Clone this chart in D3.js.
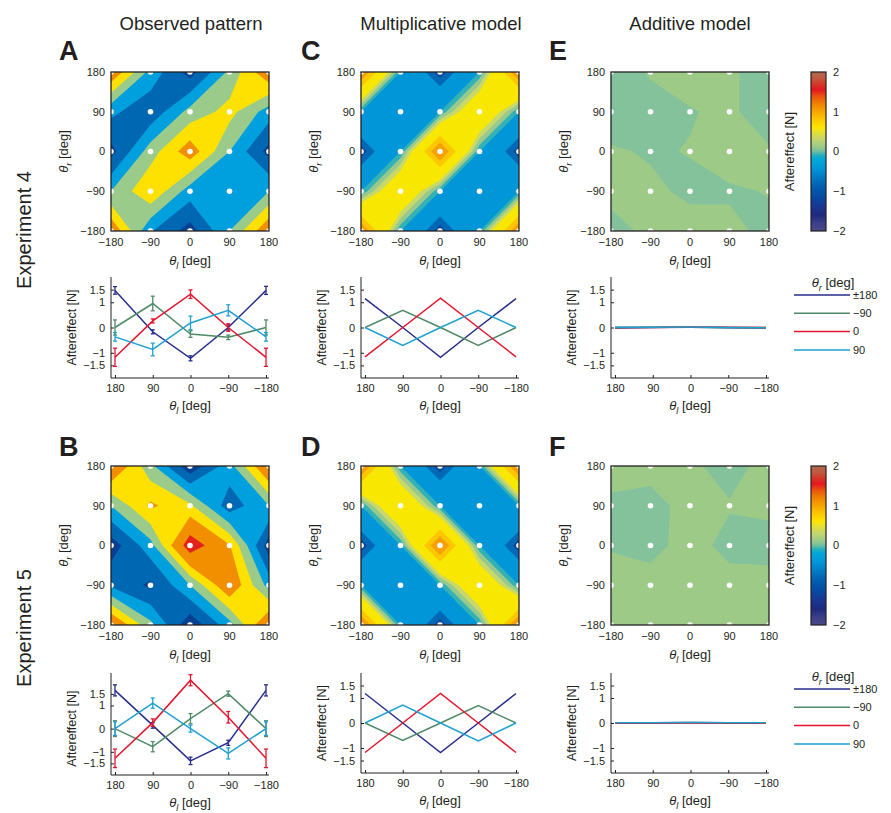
<!DOCTYPE html>
<html>
<head>
<meta charset="utf-8">
<script src="https://cdn.jsdelivr.net/npm/d3@7"></script>
<style>
  body { margin: 0; background: #fff; }
  text { font-family: "Liberation Sans", Arial, Helvetica, sans-serif; fill: #231f20; }
</style>
</head>
<body>
<div id="fig"></div>
<script>
// ---- data ----
var gridTicks = [-180, -90, 0, 90, 180];          // theta_l (x) and theta_r (y) of the maps
var lineTicks = [180, 90, 0, -90, -180];          // theta_l labels of the line plots, left to right
var lineYTicks = [1.5, 1, 0, -1, -1.5];
var seriesNames = ["\u00b1180", "\u221290", "0", "90"];   // theta_r

// line plots: one array per theta_r (±180, -90, 0, 90)
var obs4 = [[1.47, -0.17, -1.22, 0, 1.47], [0, 0.95, -0.26, -0.39, 0], [-1.18, 0.26, 1.32, 0, -1.18], [-0.37, -0.87, 0.18, 0.68, -0.37]];
var obs4Err = [[0.15, 0.08, 0.1, 0.1, 0.16], [0.3, 0.29, 0.13, 0.09, 0.3], [0.36, 0.08, 0.17, 0.15, 0.36], [0.17, 0.25, 0.27, 0.22, 0.17]];
var obs5 = [[1.65, 0.14, -1.39, -0.61, 1.65], [0, -0.78, 0.43, 1.51, 0], [-1.28, 0.26, 2.09, 0.49, -1.28], [0, 1.1, 0, -1.07, 0]];
var obs5Err = [[0.24, 0.12, 0.16, 0.11, 0.24], [0.34, 0.22, 0.22, 0.11, 0.34], [0.4, 0.16, 0.24, 0.25, 0.4], [0.29, 0.22, 0.15, 0.24, 0.29]];
var mult4 = [[1.14, 0, -1.18, 0, 1.14], [0, 0.68, 0, -0.71, 0], [-1.16, 0, 1.16, 0, -1.16], [0, -0.71, 0, 0.68, 0]];
var mult5 = [[1.18, 0, -1.18, 0, 1.18], [0, -0.7, 0, 0.7, 0], [-1.18, 0, 1.18, 0, -1.18], [0, 0.72, 0, -0.72, 0]];
var add4 = [[-0.02, 0, 0.01, -0.01, -0.02], [0, 0.01, 0.01, 0, 0], [0, 0, 0.02, 0.01, 0], [0.01, 0.01, 0.02, 0, -0.01]];
var add5 = [[0, 0.01, 0.02, 0.01, 0], [0.01, 0, 0.01, 0, 0.01], [-0.01, -0.01, 0, -0.01, -0.01], [0.01, 0.01, 0.02, 0.01, 0.01]];

// maps: rows from theta_r = 180 (top) down to -180, columns theta_l = -180..180
var gridA = [[1.47, -0.17, -1.22, 0.12, 1.47], [-0.37, -0.87, 0.18, 0.68, -0.25], [-1.18, 0.26, 1.32, 0, -1.18], [0, 0.95, -0.26, -0.39, 0], [1.47, -0.45, -1.22, 0, 1.47]];
var gridB = [[1.65, 0.14, -1.39, -0.2, 1.65], [0, 1.1, 0.6, -0.8, 0], [-1.28, -0.2, 2.09, 1.05, -1.28], [-0.6, -1.1, 0, 1.51, -0.2], [1.65, 0.14, -1.39, -0.2, 1.65]];
var gridC = [[1.14, 0, -1.18, 0, 1.14], [0, -0.71, 0, 0.68, 0], [-1.16, 0, 1.16, 0, -1.16], [0, 0.68, 0, -0.71, 0], [1.14, 0, -1.18, 0, 1.14]];
var gridD = [[1.18, 0, -1.18, 0, 1.18], [0, 0.72, 0, -0.72, 0], [-1.18, 0, 1.18, 0, -1.18], [0, -0.7, 0, 0.7, 0], [1.18, 0, -1.18, 0, 1.18]];
var gridE = [[-0.03, 0.005, 0.02, 0.01, -0.03], [-0.03, -0.02, -0.003, 0.01, -0.03], [0.006, -0.005, 0.002, 0.02, 0.006], [0.01, 0.01, -0.01, -0.005, 0.002], [-0.012, 0.008, 0.02, 0.01, -0.01]];
var gridF = [[0.01, 0.01, 0.005, -0.01, 0.01], [-0.005, -0.01, 0.01, 0.002, 0.003], [-0.002, -0.008, 0.01, -0.008, -0.005], [0.01, 0.01, 0.01, 0.01, 0.005], [0.01, 0.01, 0.01, 0.01, 0.01]];

// contour levels
var obsLevels = [-10, -1, -0.5, 0, 0.5, 1, 1.7];
var modelLevels = [-10, -1, -0.75, 0, 0.11, 0.22, 0.33, 0.7, 0.9];
var addLevels = [-10, 0];

// colour bar
var cbarValues = [-2, -1.8, -1.6, -1.4, -1.2, -1, -0.8, -0.6, -0.4, -0.2, -0.1, 0, 0.1, 0.3, 0.5, 0.6, 0.8, 1, 1.2, 1.4, 1.55, 1.7, 1.85, 2];
var cbarTicks = [2, 1, 0, -1, -2];

// ---- styles ----
var obsColors = ["#083f90", "#0067b3", "#00a0df", "#9bcb8b", "#fee100", "#f28f00", "#e2231c"];
var modelColors = ["#0a4595", "#0068b4", "#0096d8", "#33b1b4", "#97c98e", "#c8d96c", "#f8e700", "#fcc600", "#f5a100"];
var addColors = ["#84c29c", "#9dcb87"];
var seriesColors = ["#262d8c", "#4f8a68", "#e5142c", "#1ea1d0"];
var cbarColors = ["#4b4a85", "#3a3f8a", "#1f2a7e", "#1b3590", "#0b45a0", "#0055a8", "#0068b6", "#0080c8", "#0098d8", "#00a8d8", "#20b0c0", "#6fbea0", "#95c88c", "#c2d66e", "#e8e030", "#ffe600", "#fdc800", "#f7a500", "#f08200", "#ea5010", "#e5161e", "#d43a2a", "#c05a40", "#b06a50"];

var W = 158, H = 159;
var colX = [111, 361, 611];
var rowY = [72, 466];

var svg = d3.select("#fig").append("svg")
  .attr("width", 891)
  .attr("height", 813);
var defs = svg.append("defs");
var clipCount = 0;

function minus(v) { return String(v).replace("-", "\u2212"); }

// theta label with italic subscript
function thetaLabel(x, y, sub, size, rotate) {
  var t = svg.append("text")
    .attr("transform", "translate(" + x + "," + y + ")" + (rotate ? " rotate(-90)" : ""))
    .attr("text-anchor", "middle")
    .attr("font-size", size);
  t.append("tspan").attr("font-style", "italic").text("\u03b8");
  t.append("tspan").attr("font-style", "italic").attr("font-size", size * 0.7).attr("dy", size * 0.28).text(sub);
  t.append("tspan").attr("dy", -size * 0.28).text(" [deg]");
}

// marching squares, straight segments between edge crossings (like contourf).
// returns the polygons of the region value >= t, cell by cell, in (theta_l, theta_r).
// saddle cells join the high corners when the cell mean reaches t.
function levelPolys(grid, t) {
  var g = grid.slice().reverse();
  var polys = [];
  function cross(p, q) {
    var f = (t - p[2]) / (q[2] - p[2]);
    return [p[0] + f * (q[0] - p[0]), p[1] + f * (q[1] - p[1])];
  }
  for (var j = 0; j < 4; j++) {
    for (var i = 0; i < 4; i++) {
      var c = [
        [gridTicks[i], gridTicks[j], g[j][i]],
        [gridTicks[i + 1], gridTicks[j], g[j][i + 1]],
        [gridTicks[i + 1], gridTicks[j + 1], g[j + 1][i + 1]],
        [gridTicks[i], gridTicks[j + 1], g[j + 1][i]]
      ];
      var up = c.map(function(p) { return p[2] >= t; });
      var saddle = up[0] === up[2] && up[1] === up[3] && up[0] !== up[1];
      var mean = (c[0][2] + c[1][2] + c[2][2] + c[3][2]) / 4;
      if (saddle && mean < t) {
        for (var k = 0; k < 4; k++) {
          if (!up[k]) continue;
          var prev = c[(k + 3) % 4], next = c[(k + 1) % 4];
          polys.push([cross(prev, c[k]), [c[k][0], c[k][1]], cross(c[k], next)]);
        }
        continue;
      }
      var out = [];
      for (var k2 = 0; k2 < 4; k2++) {
        var a = c[k2], b = c[(k2 + 1) % 4];
        if (up[k2]) out.push([a[0], a[1]]);
        if (up[k2] !== up[(k2 + 1) % 4]) out.push(cross(a, b));
      }
      if (out.length > 2) polys.push(out);
    }
  }
  return polys;
}

function mapPanel(x0, y0, grid, levels, colors) {
  var x = d3.scaleLinear().domain([-180, 180]).range([x0, x0 + W]);
  var y = d3.scaleLinear().domain([-180, 180]).range([y0 + H, y0]);
  var id = "clip" + (clipCount++);
  defs.append("clipPath").attr("id", id)
    .append("rect").attr("x", x0).attr("y", y0).attr("width", W).attr("height", H);
  var g = svg.append("g").attr("clip-path", "url(#" + id + ")");

  var ring = d3.line()
    .x(function(p) { return x(p[0]); })
    .y(function(p) { return y(p[1]); });

  g.selectAll("path.band")
    .data(levels)
    .join("path")
    .attr("class", "band")
    .attr("d", function(t) {
      return levelPolys(grid, t).map(function(p) { return ring(p) + "Z"; }).join("");
    })
    .attr("fill", function(d, i) { return colors[i]; });

  var nodes = [];
  gridTicks.forEach(function(a) { gridTicks.forEach(function(b) { nodes.push([a, b]); }); });
  g.selectAll("circle")
    .data(nodes)
    .join("circle")
    .attr("cx", function(d) { return x(d[0]); })
    .attr("cy", function(d) { return y(d[1]); })
    .attr("r", 2.8)
    .attr("fill", "#fff");

  svg.append("rect")
    .attr("x", x0).attr("y", y0).attr("width", W).attr("height", H)
    .attr("fill", "none").attr("stroke", "#231f20").attr("stroke-width", 1.3);

  svg.append("g").selectAll("text")
    .data(gridTicks)
    .join("text")
    .attr("x", function(d) { return x(d); })
    .attr("y", y0 + H + 15)
    .attr("text-anchor", "middle")
    .attr("font-size", 11)
    .text(minus);
  svg.append("g").selectAll("text")
    .data(gridTicks)
    .join("text")
    .attr("x", x0 - 6)
    .attr("y", function(d) { return y(d); })
    .attr("dy", "0.35em")
    .attr("text-anchor", "end")
    .attr("font-size", 11)
    .text(minus);

  thetaLabel(x0 + W / 2, y0 + H + 34, "l", 13, false);
  thetaLabel(x0 - 43, y0 + H / 2, "r", 13, true);
}

function linePanel(x0, yTop, yBot, ydom, series, errs) {
  var x = d3.scaleLinear().domain([180, -180]).range([x0 + 4, x0 + W - 3]);
  var y = d3.scaleLinear().domain(ydom).range([yBot, yTop]);
  var g = svg.append("g");

  g.append("line").attr("x1", x0).attr("x2", x0).attr("y1", yTop).attr("y2", yBot)
    .attr("stroke", "#231f20").attr("stroke-width", 1);
  g.append("line").attr("x1", x0).attr("x2", x0 + W).attr("y1", yBot).attr("y2", yBot)
    .attr("stroke", "#231f20").attr("stroke-width", 1);

  var ya = g.append("g").attr("transform", "translate(" + x0 + ",0)")
    .call(d3.axisLeft(y).tickValues(lineYTicks).tickSizeInner(-3).tickSizeOuter(0).tickPadding(6).tickFormat(minus));
  var xa = g.append("g").attr("transform", "translate(0," + yBot + ")")
    .call(d3.axisBottom(x).tickValues(lineTicks).tickSizeInner(-3).tickSizeOuter(0).tickPadding(6).tickFormat(minus));
  [ya, xa].forEach(function(a) {
    a.select(".domain").remove();
    a.selectAll("line").attr("stroke", "#231f20");
    a.selectAll("text").attr("font-size", 11).attr("font-family", null).attr("fill", "#231f20");
  });

  var line = d3.line()
    .x(function(d, i) { return x(lineTicks[i]); })
    .y(function(d) { return y(d); });

  series.forEach(function(vals, k) {
    if (errs) {
      var e = g.append("g").attr("stroke", seriesColors[k]).attr("stroke-width", 1.3);
      vals.forEach(function(v, i) {
        var cx = x(lineTicks[i]), lo = y(v - errs[k][i]), hi = y(v + errs[k][i]);
        e.append("line").attr("x1", cx).attr("x2", cx).attr("y1", lo).attr("y2", hi);
        e.append("line").attr("x1", cx - 2).attr("x2", cx + 2).attr("y1", lo).attr("y2", lo);
        e.append("line").attr("x1", cx - 2).attr("x2", cx + 2).attr("y1", hi).attr("y2", hi);
      });
    }
    g.append("path")
      .datum(vals)
      .attr("d", line)
      .attr("fill", "none")
      .attr("stroke", seriesColors[k])
      .attr("stroke-width", 1.5);
  });

  thetaLabel(x0 + W / 2, yBot + 32, "l", 13, false);
  svg.append("text")
    .attr("transform", "translate(" + (x0 - 35) + "," + y(0) + ") rotate(-90)")
    .attr("text-anchor", "middle")
    .attr("font-size", 12.5)
    .text("Aftereffect [N]");
}

function colorbar(y0) {
  var gid = "cbar";
  if (y0 === rowY[0]) {
    var grad = defs.append("linearGradient").attr("id", gid)
      .attr("x1", 0).attr("y1", 1).attr("x2", 0).attr("y2", 0);
    cbarValues.forEach(function(v, i) {
      grad.append("stop").attr("offset", (v + 2) / 4).attr("stop-color", cbarColors[i]);
    });
  }
  var y = d3.scaleLinear().domain([-2, 2]).range([y0 + H, y0]);
  svg.append("rect").attr("x", 811).attr("y", y0).attr("width", 15).attr("height", H)
    .attr("fill", "url(#" + gid + ")").attr("stroke", "#231f20").attr("stroke-width", 1.2);
  svg.append("g").selectAll("text")
    .data(cbarTicks)
    .join("text")
    .attr("x", 833)
    .attr("y", function(d) { return y(d); })
    .attr("dy", "0.35em")
    .attr("font-size", 11)
    .text(minus);
  svg.append("text")
    .attr("transform", "translate(794," + (y0 + H / 2) + ") rotate(-90)")
    .attr("text-anchor", "middle")
    .attr("font-size", 13)
    .text("Aftereffect [N]");
}

function legend(yTitle) {
  thetaLabel(833, yTitle, "r", 13, false);
  seriesNames.forEach(function(name, k) {
    var ly = yTitle + 8 + k * 18.3;
    svg.append("line").attr("x1", 794).attr("x2", 850).attr("y1", ly).attr("y2", ly)
      .attr("stroke", seriesColors[k]).attr("stroke-width", 1.5);
    svg.append("text").attr("x", 853).attr("y", ly).attr("dy", "0.35em")
      .attr("font-size", 11).text(name);
  });
}

// ---- titles ----
[["Observed pattern", 191], ["Multiplicative model", 441], ["Additive model", 690]].forEach(function(t) {
  svg.append("text").attr("x", t[1]).attr("y", 30).attr("text-anchor", "middle")
    .attr("font-size", 18.5).text(t[0]);
});
[["A", 59, 60], ["C", 301, 60], ["E", 549, 60], ["B", 59, 456], ["D", 301, 456], ["F", 549, 456]].forEach(function(t) {
  svg.append("text").attr("x", t[1]).attr("y", t[2]).attr("font-size", 27)
    .attr("font-weight", "bold").text(t[0]);
});
[["Experiment 4", 230], ["Experiment 5", 628]].forEach(function(t) {
  svg.append("text").attr("transform", "translate(31," + t[1] + ") rotate(-90)")
    .attr("text-anchor", "middle").attr("font-size", 20).text(t[0]);
});

// ---- panels ----
mapPanel(colX[0], rowY[0], gridA, obsLevels, obsColors);
mapPanel(colX[1], rowY[0], gridC, modelLevels, modelColors);
mapPanel(colX[2], rowY[0], gridE, addLevels, addColors);
mapPanel(colX[0], rowY[1], gridB, obsLevels, obsColors);
mapPanel(colX[1], rowY[1], gridD, modelLevels, modelColors);
mapPanel(colX[2], rowY[1], gridF, addLevels, addColors);

linePanel(colX[0], 277, 378, [-2, 2], obs4, obs4Err);
linePanel(colX[1], 277, 378, [-2, 2], mult4, null);
linePanel(colX[2], 277, 378, [-2, 2], add4, null);
linePanel(colX[0], 673, 775, [-2, 2.4], obs5, obs5Err);
linePanel(colX[1], 673, 773, [-2, 2], mult5, null);
linePanel(colX[2], 673, 773, [-2, 2], add5, null);

colorbar(rowY[0]);
colorbar(rowY[1]);
legend(287);
legend(681);
</script>
</body>
</html>
